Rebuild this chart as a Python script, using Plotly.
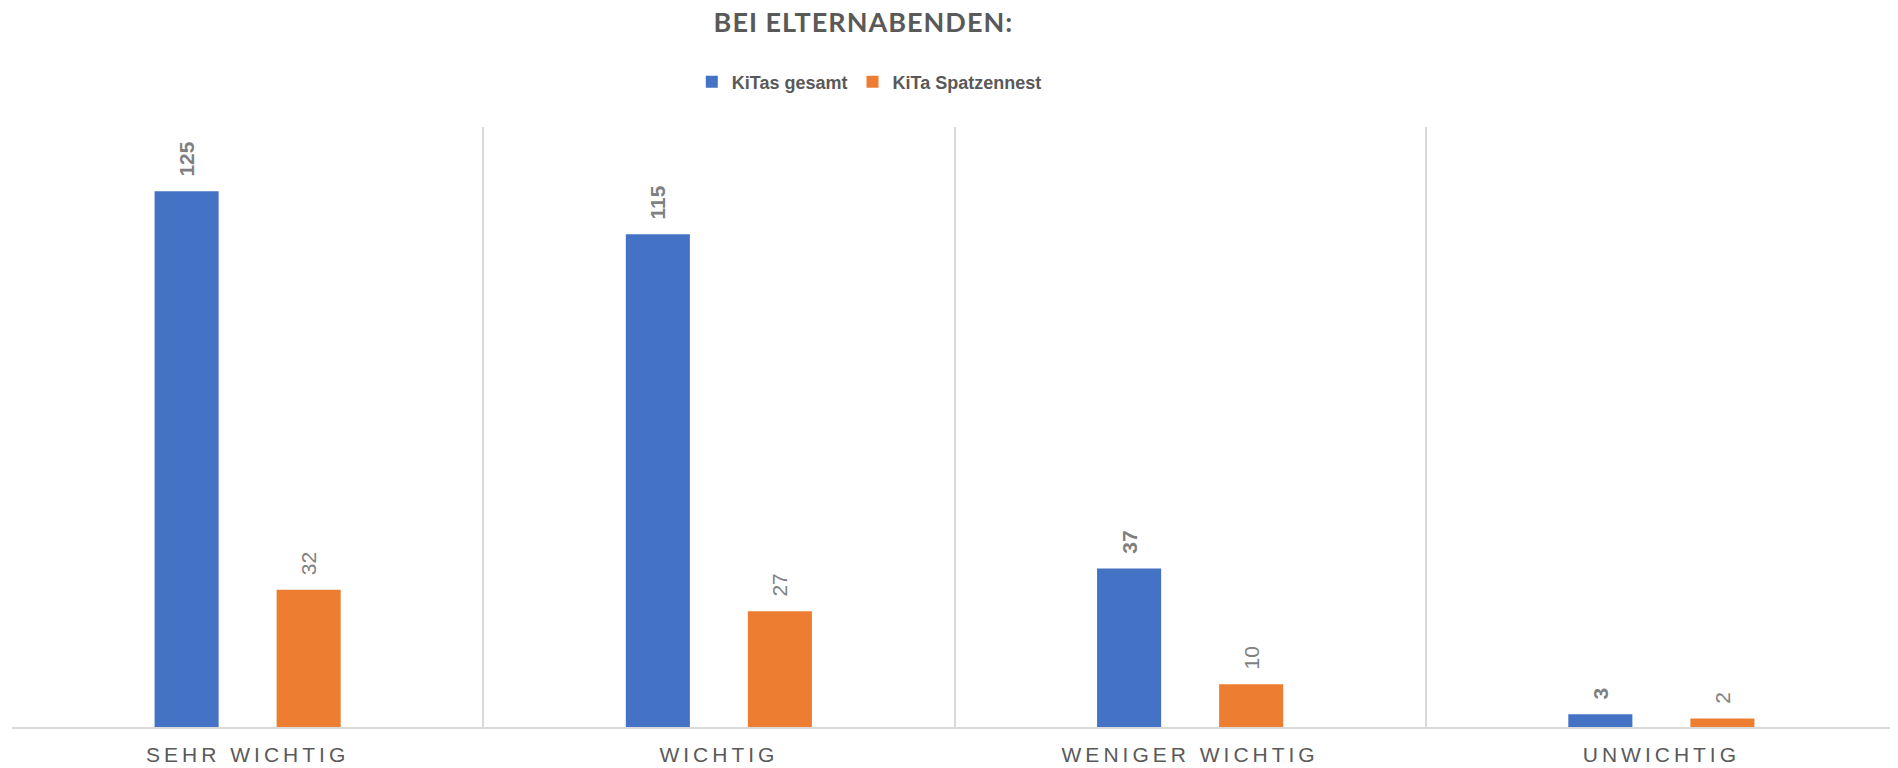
import plotly.graph_objects as go

categories = ["SEHR WICHTIG", "WICHTIG", "WENIGER WICHTIG", "UNWICHTIG"]
kitas_gesamt = [125, 115, 37, 3]
kita_spatzennest = [32, 27, 10, 2]
series_names = ["KiTas gesamt", "KiTa Spatzennest"]

BLUE = "#4472C4"
ORANGE = "#ED7D31"
GRAY = "#595959"
LABEL_GRAY = "#7F7F7F"
GRID = "#D9D9D9"

# the page body has an 8px margin; size the figure to fit the window
W, H = 1890, 760

fig = go.Figure()
fig.add_trace(go.Bar(
    x=categories, y=kitas_gesamt, name=series_names[0],
    marker=dict(color=BLUE, line=dict(width=0)),
    text=kitas_gesamt, texttemplate="\u00a0\u00a0%{text}",
    textposition="outside", textangle=-90,
    outsidetextfont=dict(family="Liberation Sans", size=21, color=LABEL_GRAY, weight="bold"),
    cliponaxis=False,
))
fig.add_trace(go.Bar(
    x=categories, y=kita_spatzennest, name=series_names[1],
    marker=dict(color=ORANGE, line=dict(width=0)),
    text=kita_spatzennest, texttemplate="\u00a0\u00a0%{text}",
    textposition="outside", textangle=-90,
    outsidetextfont=dict(family="Liberation Sans", size=21, color=LABEL_GRAY),
    cliponaxis=False,
))

fig.update_layout(
    width=W, height=H,
    margin=dict(l=4, r=1, t=119, b=41, autoexpand=False),
    paper_bgcolor="white", plot_bgcolor="white",
    barmode="group", bargap=0.482, bargroupgap=0.475,
    title=dict(
        text="<b>BEI ELTERNABENDEN:</b>",
        x=0.4526, xanchor="center", xref="container",
        y=1 - 5 / H, yanchor="top", yref="container",
        font=dict(family="Lato", size=27, color=GRAY),
    ),
    legend=dict(
        orientation="h", x=0.4548, xanchor="center",
        yref="container", y=1 - 74 / H, yanchor="middle",
        font=dict(family="Liberation Sans", size=18, color=GRAY, weight="bold"),
        itemwidth=30, traceorder="normal",
    ),
    showlegend=True,
    xaxis=dict(
        type="category", tickson="boundaries", automargin=False,
        showgrid=True, gridcolor=GRID, gridwidth=1.5,
        showline=True, linecolor=GRID, linewidth=2,
        ticks="", ticklabelstandoff=8,
        tickfont=dict(family="Liberation Sans", size=21, color=GRAY),
        range=[-0.5, 3.5],
    ),
    yaxis=dict(
        range=[0, 140], showgrid=False, showticklabels=False,
        zeroline=False, showline=False, ticks="", automargin=False,
    ),
)

letter_spacing_js = (
    "document.querySelectorAll('.xtick text').forEach(function(t){"
    "t.style.letterSpacing='4px';});"
    "document.querySelectorAll('.gtitle').forEach(function(t){"
    "t.style.letterSpacing='1px';});"
)

fig.write_html("out.html", post_script=letter_spacing_js)
